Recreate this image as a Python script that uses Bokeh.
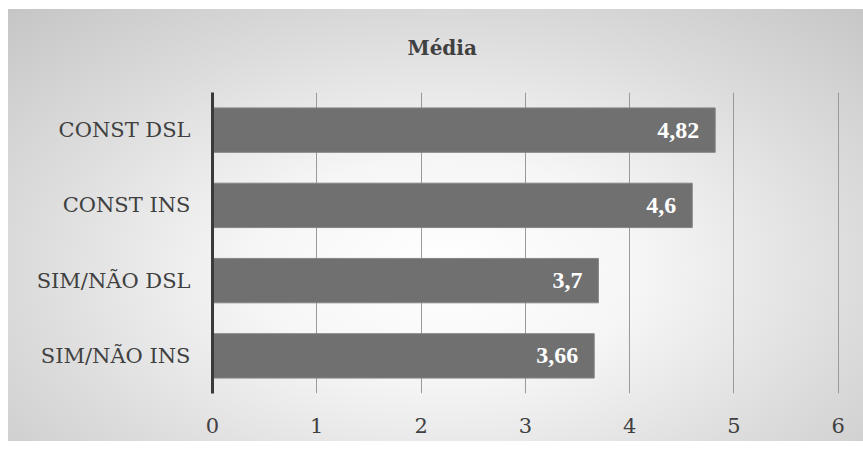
from bokeh.plotting import figure
from bokeh.models import ColumnDataSource, LabelSet, Range1d, FactorRange, FixedTicker
from bokeh.embed import file_html
from bokeh.resources import INLINE

categories = ["CONST DSL", "CONST INS", "SIM/NÃO DSL", "SIM/NÃO INS"]
values = [4.82, 4.6, 3.7, 3.66]
x_ticks = [0, 1, 2, 3, 4, 5, 6]
title_text = "Média"

labels = [str(v).replace(".", ",") for v in values]
src = ColumnDataSource(dict(cat=categories, val=values, lab=labels))

FONT = "DejaVu Serif"
p = figure(width=863, height=441, output_backend="svg", toolbar_location=None,
           y_range=FactorRange(factors=list(reversed(categories))),
           x_range=Range1d(0, 6.05),
           min_border_left=212, min_border_right=20, min_border_top=92, min_border_bottom=48)
p.styles = {"background": "radial-gradient(ellipse 75% 85% at 51% 60%, #ffffff 0%, #f6f6f6 30%, #dcdcdc 65%, #c4c4c4 100%) 8px 9px / 855px 432px no-repeat, #ffffff"}
p.background_fill_color = None
p.border_fill_color = None
p.outline_line_color = None

p.hbar(y="cat", right="val", left=0, height=0.59, source=src,
       fill_color="#707070", line_color="#858585", line_width=1)

p.title.text = title_text
p.title.align = "left"
p.title.text_font = FONT
p.title.text_font_size = "20px"
p.title.text_font_style = "bold"
p.title.text_color = "#404040"
p.title.offset = 195
p.title.standoff = 66

p.xaxis.ticker = FixedTicker(ticks=x_ticks)
p.xaxis.axis_line_color = None
p.xaxis.major_tick_line_color = None
p.xaxis.minor_tick_line_color = None
p.xaxis.major_label_text_font = FONT
p.xaxis.major_label_text_font_size = "21px"
p.xaxis.major_label_text_color = "#404040"
p.xaxis.major_label_standoff = 18

p.yaxis.axis_line_color = "#3a3a3a"
p.yaxis.axis_line_width = 3
p.yaxis.major_tick_line_color = None
p.yaxis.minor_tick_line_color = None
p.yaxis.major_label_text_font = FONT
p.yaxis.major_label_text_font_size = "21px"
p.yaxis.major_label_text_color = "#404040"
p.yaxis.major_label_standoff = 16

p.ygrid.grid_line_color = None
p.xgrid.ticker = FixedTicker(ticks=x_ticks)
p.xgrid.grid_line_color = "#9a9a9a"
p.xgrid.grid_line_width = 1

lbl = LabelSet(x="val", y="cat", text="lab", source=src, x_offset=-16,
               text_align="right", text_baseline="middle",
               text_font=FONT, text_font_size="24px", text_font_style="bold",
               text_color="#ffffff")
p.add_layout(lbl)

open("out.html", "w").write(file_html(p, INLINE))
